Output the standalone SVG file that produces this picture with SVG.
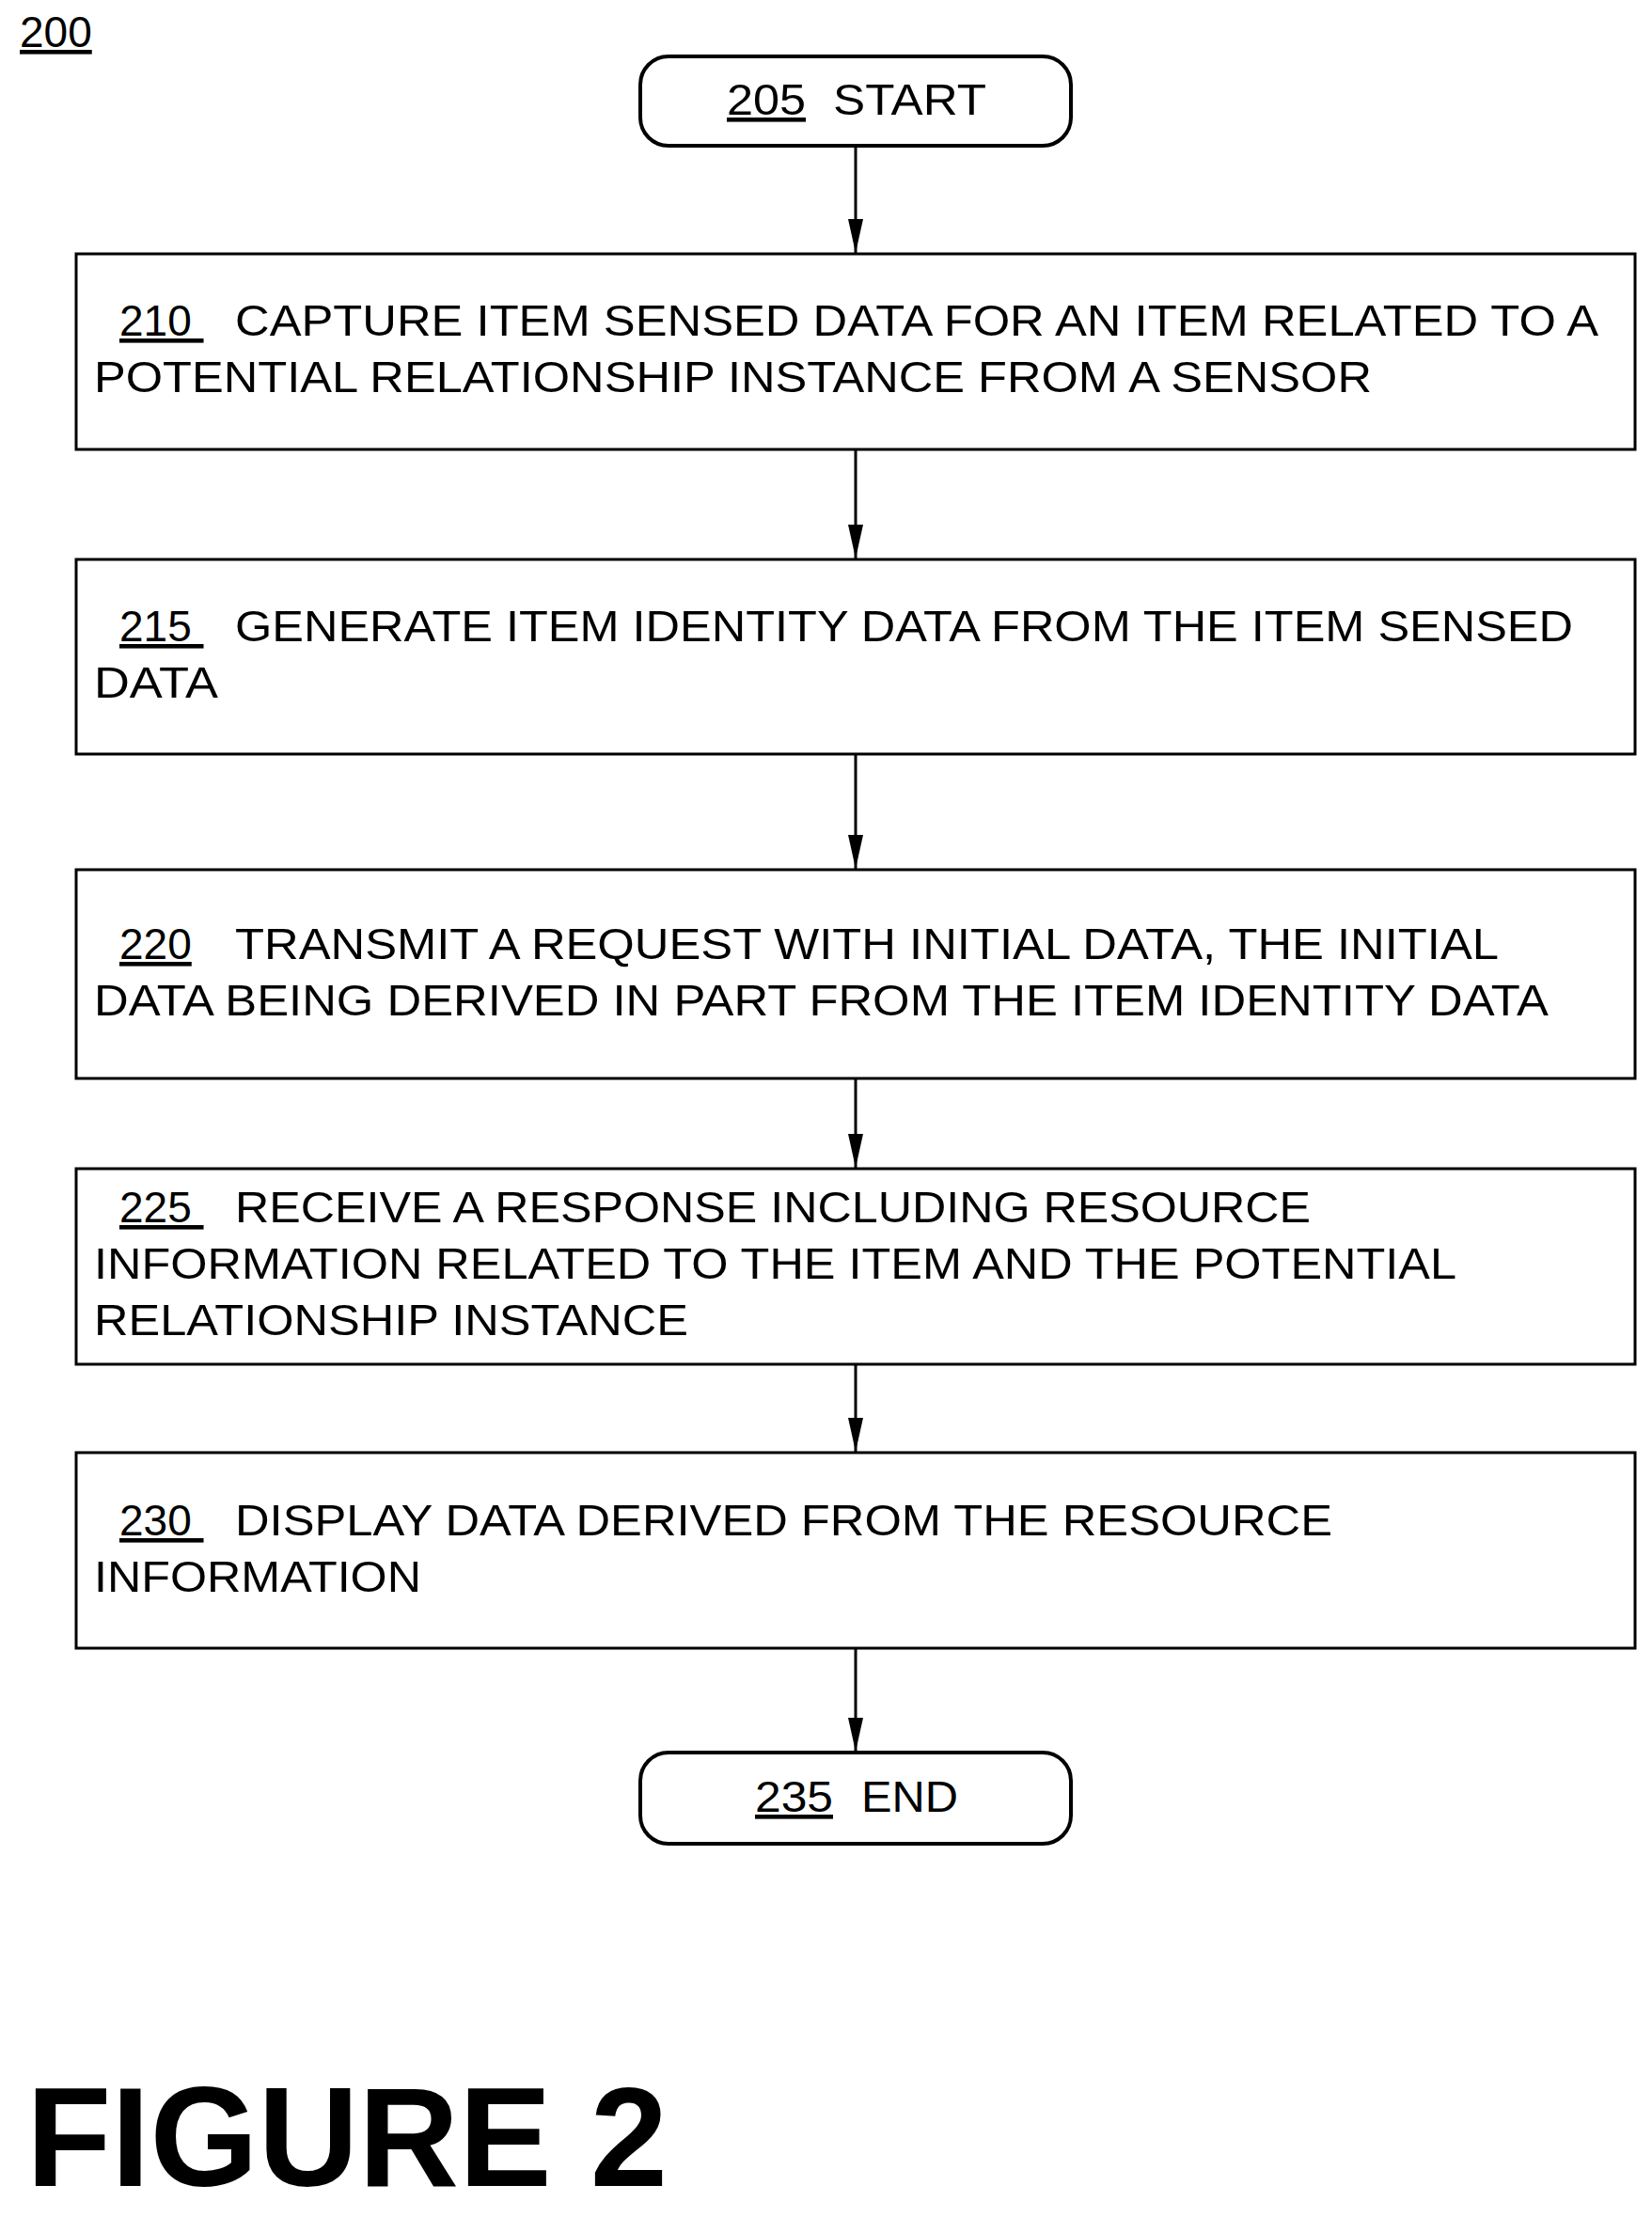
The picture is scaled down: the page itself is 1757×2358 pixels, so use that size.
<svg xmlns="http://www.w3.org/2000/svg" width="1757" height="2358" viewBox="0 0 1757 2358">
<style>
text{font-family:"Liberation Sans",Arial,sans-serif;font-size:46px;fill:#000}
.box{fill:#fff;stroke:#000;stroke-width:3}
.term{fill:#fff;stroke:#000;stroke-width:4}
.u{text-decoration:underline}
.conn line{stroke:#000;stroke-width:3;marker-end:url(#ah)}
</style>
<defs><marker id="ah" markerWidth="36" markerHeight="16" refX="36" refY="8" orient="auto" markerUnits="userSpaceOnUse" viewBox="0 0 36 16"><path d="M0,0L36,8L0,16Z" fill="#000"/></marker></defs>
<rect width="1757" height="2358" fill="#fff"/>
<text x="21" y="50" class="u">200</text>
<g id="n205"><rect class="term" x="681" y="60" width="458" height="95" rx="30"/><text x="773" y="122" class="u" textLength="84" lengthAdjust="spacingAndGlyphs">205</text><text x="886" y="122" textLength="163" lengthAdjust="spacingAndGlyphs">START</text></g>
<g id="n210"><rect class="box" x="81" y="270" width="1658" height="208"/><text x="127" y="357" class="u" xml:space="preserve">210 </text><text x="250" y="357" textLength="1450" lengthAdjust="spacingAndGlyphs">CAPTURE ITEM SENSED DATA FOR AN ITEM RELATED TO A</text><text x="100" y="417" textLength="1359" lengthAdjust="spacingAndGlyphs">POTENTIAL RELATIONSHIP INSTANCE FROM A SENSOR</text></g>
<g id="n215"><rect class="box" x="81" y="595" width="1658" height="207"/><text x="127" y="682" class="u" xml:space="preserve">215 </text><text x="250" y="682" textLength="1423" lengthAdjust="spacingAndGlyphs">GENERATE ITEM IDENTITY DATA FROM THE ITEM SENSED</text><text x="100" y="742" textLength="132" lengthAdjust="spacingAndGlyphs">DATA</text></g>
<g id="n220"><rect class="box" x="81" y="925" width="1658" height="222"/><text x="127" y="1020" class="u">220</text><text x="250" y="1020" textLength="1344" lengthAdjust="spacingAndGlyphs">TRANSMIT A REQUEST WITH INITIAL DATA, THE INITIAL</text><text x="100" y="1080" textLength="1547" lengthAdjust="spacingAndGlyphs">DATA BEING DERIVED IN PART FROM THE ITEM IDENTITY DATA</text></g>
<g id="n225"><rect class="box" x="81" y="1243" width="1658" height="208"/><text x="127" y="1300" class="u" xml:space="preserve">225 </text><text x="250" y="1300" textLength="1144" lengthAdjust="spacingAndGlyphs">RECEIVE A RESPONSE INCLUDING RESOURCE</text><text x="100" y="1360" textLength="1449" lengthAdjust="spacingAndGlyphs">INFORMATION RELATED TO THE ITEM AND THE POTENTIAL</text><text x="100" y="1420" textLength="632" lengthAdjust="spacingAndGlyphs">RELATIONSHIP INSTANCE</text></g>
<g id="n230"><rect class="box" x="81" y="1545" width="1658" height="208"/><text x="127" y="1633" class="u" xml:space="preserve">230 </text><text x="250" y="1633" textLength="1167" lengthAdjust="spacingAndGlyphs">DISPLAY DATA DERIVED FROM THE RESOURCE</text><text x="100" y="1693" textLength="348" lengthAdjust="spacingAndGlyphs">INFORMATION</text></g>
<g id="n235"><rect class="term" x="681" y="1864" width="458" height="97" rx="30"/><text x="803" y="1927" class="u" textLength="83" lengthAdjust="spacingAndGlyphs">235</text><text x="916" y="1927" textLength="103" lengthAdjust="spacingAndGlyphs">END</text></g>
<g class="conn">
<line x1="910" y1="155" x2="910" y2="269"/>
<line x1="910" y1="478" x2="910" y2="594"/>
<line x1="910" y1="802" x2="910" y2="924"/>
<line x1="910" y1="1147" x2="910" y2="1242"/>
<line x1="910" y1="1451" x2="910" y2="1544"/>
<line x1="910" y1="1753" x2="910" y2="1863"/>
</g>
<text x="28" y="2325" style="font-weight:bold;font-size:150px" textLength="682" lengthAdjust="spacingAndGlyphs">FIGURE 2</text>
</svg>
